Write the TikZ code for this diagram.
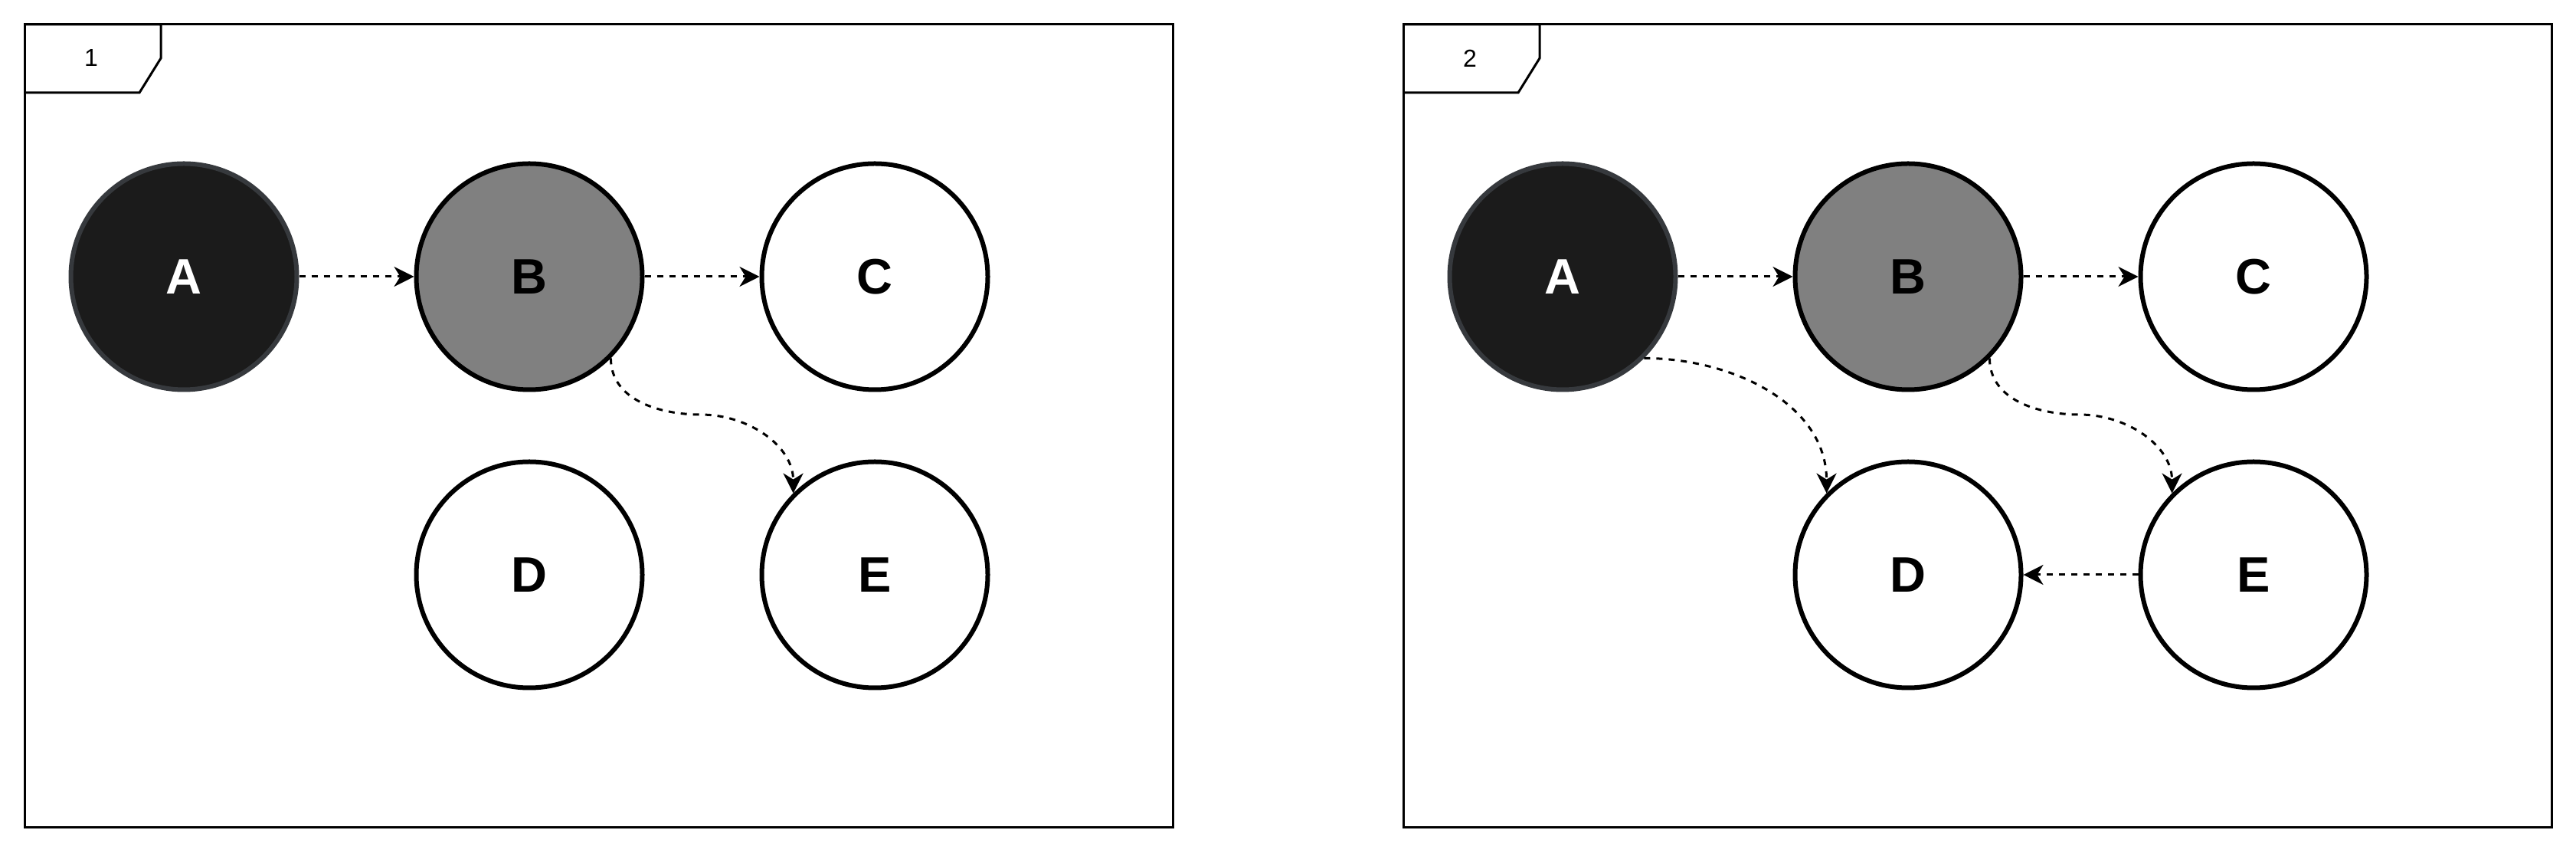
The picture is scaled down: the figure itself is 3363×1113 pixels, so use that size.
\documentclass[tikz,border=0pt]{standalone}
\usepackage{fontspec}
\setmainfont{Liberation Sans}
\usetikzlibrary{arrows.meta}
\definecolor{afill}{HTML}{1B1B1B}
\definecolor{aborder}{HTML}{36393D}
\definecolor{bfill}{HTML}{808080}
\tikzset{
  circ/.style={circle, draw=black, line width=6pt, minimum size=295pt, inner sep=0pt, fill=white,
    font=\fontsize{65}{78}\selectfont\bfseries},
  anode/.style={circ, fill=afill, draw=aborder, text=white},
  bnode/.style={circ, fill=bfill},
  arr/.style={line width=3pt, dash pattern=on 8pt off 8pt, -{Stealth[length=26pt,width=26pt,inset=8pt]}},
  framebox/.style={draw=black, line width=3pt},
  tablabel/.style={font=\fontsize{32}{38}\selectfont}
}
\begin{document}
\begin{tikzpicture}[x=1pt,y=1pt]
\useasboundingbox (0,0) rectangle (3363,1113);
% ---------- frame 1 ----------
\draw[framebox] (32,33) rectangle (1531,1081);
\draw[framebox] (32,1081) -- (210,1081) -- (210,1037) -- (182,992) -- (32,992);
\node[tablabel] (t1) at (119,1037) {1};
\node[anode] (A1) at (240,752) {A};
\node[bnode] (B1) at (691,752) {B};
\node[circ] (C1) at (1142,752) {C};
\node[circ] (D1) at (691,363) {D};
\node[circ] (E1) at (1142,363) {E};
\coordinate (m1) at (915,572);
\draw[arr] (A1) -- (B1);
\draw[arr] (B1) -- (C1);
\draw[arr] (B1.-45) to[out=-90,in=180] (m1) to[out=0,in=90] (E1.135);
% ---------- frame 2 ----------
\draw[framebox] (1832,33) rectangle (3331,1081);
\draw[framebox] (1832,1081) -- (2010,1081) -- (2010,1037) -- (1982,992) -- (1832,992);
\node[tablabel] (t2) at (1919,1037) {2};
\node[anode] (A2) at (2040,752) {A};
\node[bnode] (B2) at (2491,752) {B};
\node[circ] (C2) at (2942,752) {C};
\node[circ] (D2) at (2491,363) {D};
\node[circ] (E2) at (2942,363) {E};
\coordinate (m2) at (2715,572);
\draw[arr] (A2) -- (B2);
\draw[arr] (B2) -- (C2);
\draw[arr] (A2.-45) to[out=0,in=90] (D2.135);
\draw[arr] (B2.-45) to[out=-90,in=180] (m2) to[out=0,in=90] (E2.135);
\draw[arr] (E2) -- (D2);
\end{tikzpicture}
\end{document}
